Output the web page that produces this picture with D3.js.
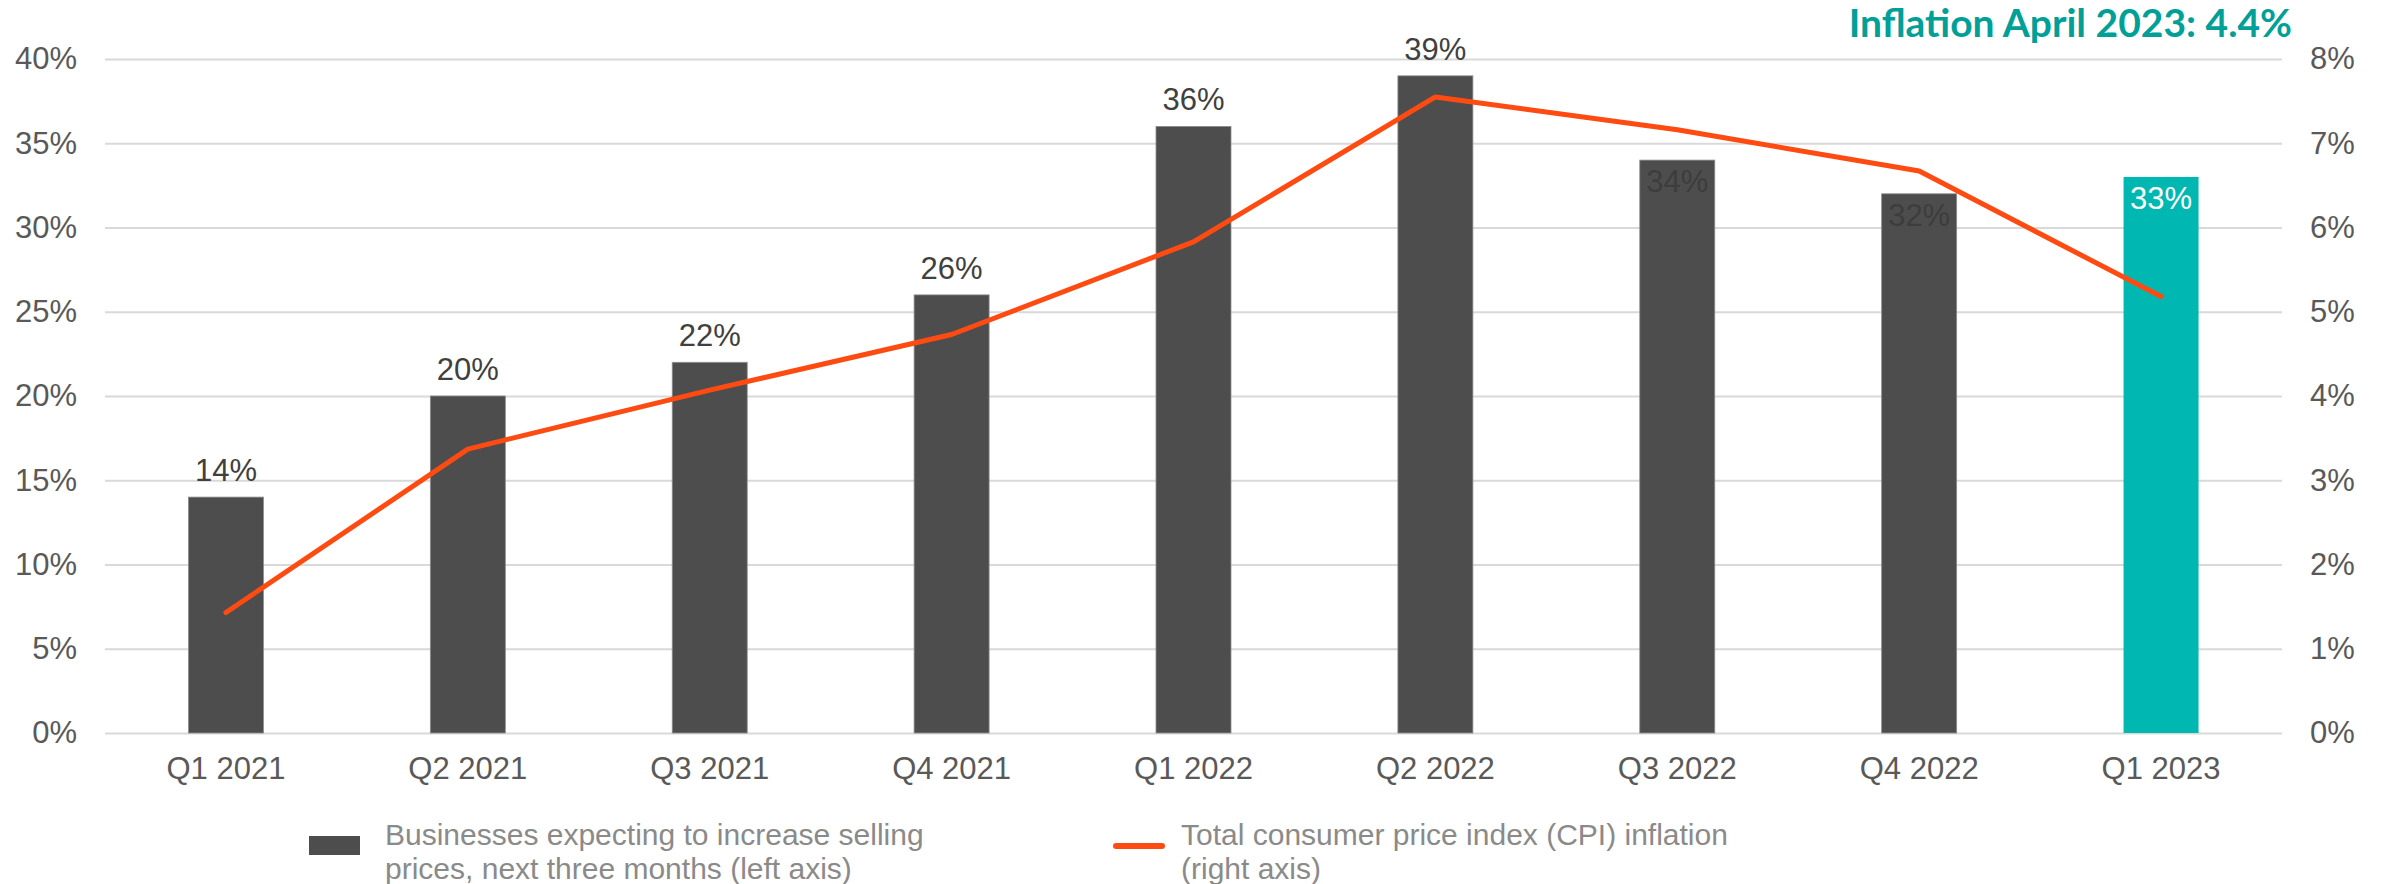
<!DOCTYPE html>
<html>
<head>
<meta charset="utf-8">
<script src="https://cdn.jsdelivr.net/npm/d3@7"></script>
<style>
  body { margin: 0; background: #ffffff; }
  svg { display: block; }
</style>
</head>
<body>
<svg id="chart" width="2389" height="884"></svg>
<script>
// Quarterly survey share vs. CPI inflation
const quarters = ["Q1 2021", "Q2 2021", "Q3 2021", "Q4 2021", "Q1 2022", "Q2 2022", "Q3 2022", "Q4 2022", "Q1 2023"];
const priceExpectations = [14, 20, 22, 26, 36, 39, 34, 32, 33];   // % of businesses, left axis
const cpiInflation = [1.43, 3.37, 4.07, 4.73, 5.83, 7.55, 7.16, 6.67, 5.18]; // %, right axis
const leftTicks = [0, 5, 10, 15, 20, 25, 30, 35, 40];
const rightTicks = [0, 1, 2, 3, 4, 5, 6, 7, 8];
const labelInside = [false, false, false, false, false, false, true, true, true];
const highlightQuarter = "Q1 2023";
const titleText = "Inflation April 2023: 4.4%";
const legendBarText = ["Businesses expecting to increase selling", "prices, next three months (left axis)"];
const legendLineText = ["Total consumer price index (CPI) inflation", "(right axis)"];

const FONT = "'Liberation Sans', Arial, sans-serif";
const C = {
  bar: "#4d4d4d",
  barEdge: "#8c8c8c",
  highlight: "#00b8b1",
  line: "#ff4b12",
  grid: "#d9d9d9",
  axisText: "#595959",
  labelText: "#404040",
  insideDark: "#3d3d3d",
  legendText: "#8a8a8a",
  title: "#00a099"
};

const plot = { left: 105, right: 2282, top: 59, bottom: 733 };
const svg = d3.select("#chart");

const x = d3.scaleBand()
  .domain(quarters)
  .range([plot.left, plot.right])
  .paddingInner(0.69)
  .paddingOuter(0.345);
const yLeft = d3.scaleLinear().domain([0, 40]).range([plot.bottom, plot.top]);
const yRight = d3.scaleLinear().domain([0, 8]).range([plot.bottom, plot.top]);

// Left axis with full-width gridlines
const gLeft = svg.append("g")
  .attr("transform", `translate(${plot.left},0)`)
  .call(d3.axisLeft(yLeft)
    .tickValues(leftTicks)
    .tickSize(-(plot.right - plot.left))
    .tickPadding(28)
    .tickFormat(d => d + "%"));
gLeft.select(".domain").remove();
gLeft.selectAll(".tick line").attr("stroke", C.grid).attr("stroke-width", 2);
gLeft.selectAll(".tick text")
  .attr("fill", C.axisText).style("font-family", FONT).style("font-size", "31px");

// Right axis
const gRight = svg.append("g")
  .attr("transform", `translate(${plot.right},0)`)
  .call(d3.axisRight(yRight)
    .tickValues(rightTicks)
    .tickSize(0)
    .tickPadding(28)
    .tickFormat(d => d + "%"));
gRight.select(".domain").remove();
gRight.selectAll(".tick text")
  .attr("fill", C.axisText).style("font-family", FONT).style("font-size", "31px");

// Category axis
const gX = svg.append("g")
  .attr("transform", `translate(0,${plot.bottom})`)
  .call(d3.axisBottom(x).tickSize(0).tickPadding(24));
gX.select(".domain").remove();
gX.selectAll(".tick text")
  .attr("fill", C.axisText).style("font-family", FONT).style("font-size", "31px");

// Bars
const rows = quarters.map((q, i) => ({ q, v: priceExpectations[i], cpi: cpiInflation[i], inside: labelInside[i] }));

svg.append("g").selectAll("rect")
  .data(rows)
  .join("rect")
  .attr("x", d => x(d.q))
  .attr("y", d => yLeft(d.v))
  .attr("width", x.bandwidth())
  .attr("height", d => yLeft(0) - yLeft(d.v))
  .attr("fill", d => d.q === highlightQuarter ? C.highlight : C.bar)
  .attr("stroke", d => d.q === highlightQuarter ? "none" : C.barEdge)
  .attr("stroke-width", 0.8);

// CPI line
const line = d3.line()
  .x(d => x(d.q) + x.bandwidth() / 2)
  .y(d => yRight(d.cpi));
svg.append("path")
  .datum(rows)
  .attr("d", line)
  .attr("fill", "none")
  .attr("stroke", C.line)
  .attr("stroke-width", 5)
  .attr("stroke-linejoin", "round")
  .attr("stroke-linecap", "round");

// Bar value labels
svg.append("g").selectAll("text")
  .data(rows)
  .join("text")
  .attr("x", d => x(d.q) + x.bandwidth() / 2)
  .attr("y", d => d.inside ? yLeft(d.v) + 32 : yLeft(d.v) - 16)
  .attr("text-anchor", "middle")
  .attr("fill", d => d.q === highlightQuarter ? "#ffffff" : (d.inside ? C.insideDark : C.labelText))
  .style("font-family", FONT)
  .style("font-size", "31px")
  .text(d => d.v + "%");

// Headline
svg.append("text")
  .attr("x", 2292)
  .attr("y", 37)
  .attr("text-anchor", "end")
  .attr("fill", C.title)
  .style("font-family", "Lato, 'Open Sans', sans-serif")
  .style("font-weight", 700)
  .style("font-size", "39px")
  .text(titleText);

// Legend
const legend = svg.append("g");
legend.append("rect")
  .attr("x", 309).attr("y", 836).attr("width", 51).attr("height", 19)
  .attr("fill", C.bar);
legend.append("text")
  .attr("x", 385).attr("y", 845)
  .attr("fill", C.legendText)
  .style("font-family", FONT).style("font-size", "30px")
  .selectAll("tspan").data(legendBarText).join("tspan")
  .attr("x", 385).attr("dy", (d, i) => i === 0 ? 0 : 34)
  .text(d => d);

legend.append("line")
  .attr("x1", 1116).attr("x2", 1162).attr("y1", 846).attr("y2", 846)
  .attr("stroke", C.line).attr("stroke-width", 6).attr("stroke-linecap", "round");
legend.append("text")
  .attr("x", 1181).attr("y", 845)
  .attr("fill", C.legendText)
  .style("font-family", FONT).style("font-size", "30px")
  .selectAll("tspan").data(legendLineText).join("tspan")
  .attr("x", 1181).attr("dy", (d, i) => i === 0 ? 0 : 34)
  .text(d => d);
</script>
</body>
</html>
